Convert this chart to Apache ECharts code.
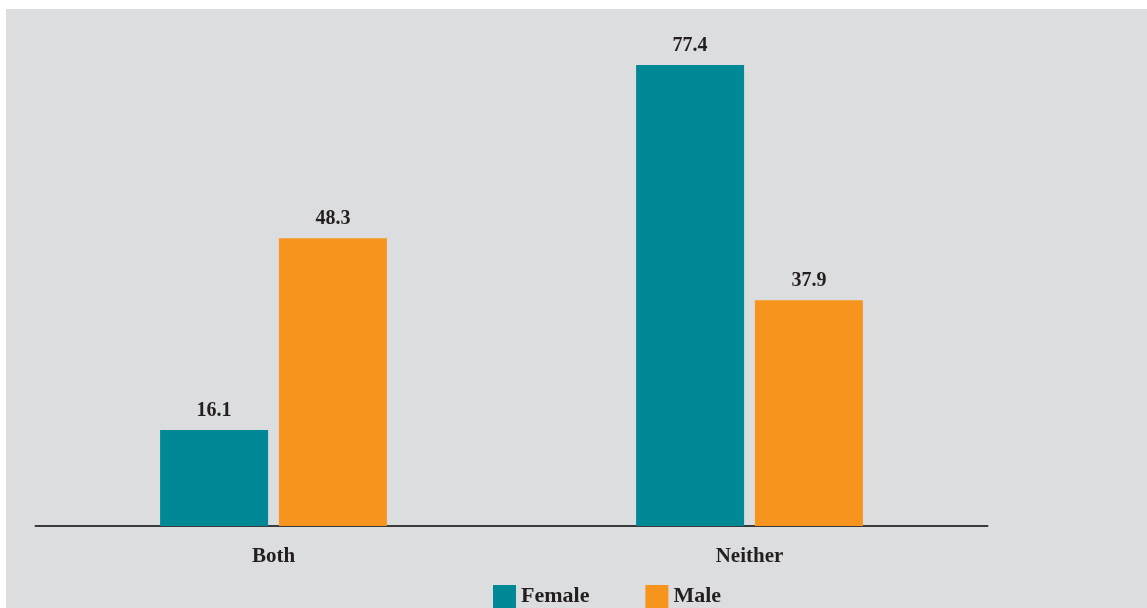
<!DOCTYPE html>
<html>
<head>
<meta charset="utf-8">
<script src="https://cdn.jsdelivr.net/npm/echarts@6/dist/echarts.min.js"></script>
<style>
  html, body { margin: 0; padding: 0; background: #ffffff; width: 1147px; height: 608px; overflow: hidden; }
  #chart { position: absolute; left: 6px; top: 9px; width: 1141px; height: 599px; background: #dcdddf; }
</style>
</head>
<body>
<div id="chart"></div>
<script>
// Share (%) by group and sex
const categories = ['Both', 'Neither'];
const seriesNames = ['Female', 'Male'];
const femaleValues = [16.1, 77.4];
const maleValues = [48.3, 37.9];

const TEAL = '#008897';
const ORANGE = '#f7941e';
const TEXT = '#231f20';
const SERIF = '"Liberation Serif", "DejaVu Serif", serif';

const chart = echarts.init(document.getElementById('chart'), null, { renderer: 'canvas' });

const valueLabel = {
  show: true,
  position: 'top',
  distance: 9,
  color: TEXT,
  fontFamily: SERIF,
  fontWeight: 'bold',
  fontSize: 20,
  formatter: p => p.value.toFixed(1)
};

chart.setOption({
  animation: false,
  backgroundColor: '#dcdddf',
  grid: { left: 29.5, right: 159.5, top: 40.5, bottom: 82, containLabel: false },
  legend: {
    data: seriesNames,
    left: 482,
    top: 571,
    itemWidth: 23,
    itemHeight: 23,
    itemGap: 56,
    icon: 'rect',
    textStyle: { color: TEXT, fontFamily: SERIF, fontWeight: 'bold', fontSize: 22 }
  },
  xAxis: {
    type: 'category',
    data: categories,
    axisLine: { show: true, lineStyle: { color: '#3a3a3a', width: 2 } },
    axisTick: { show: false },
    axisLabel: { color: TEXT, fontFamily: SERIF, fontWeight: 'bold', fontSize: 21, margin: 20 }
  },
  yAxis: {
    type: 'value',
    min: 0,
    max: 80,
    show: false,
    splitLine: { show: false }
  },
  series: [
    {
      name: seriesNames[0],
      type: 'bar',
      data: femaleValues,
      barWidth: 108,
      barGap: '10%',
      itemStyle: { color: TEAL },
      label: valueLabel
    },
    {
      name: seriesNames[1],
      type: 'bar',
      data: maleValues,
      barWidth: 108,
      barGap: '10%',
      itemStyle: { color: ORANGE },
      label: valueLabel
    }
  ]
});
</script>
</body>
</html>
